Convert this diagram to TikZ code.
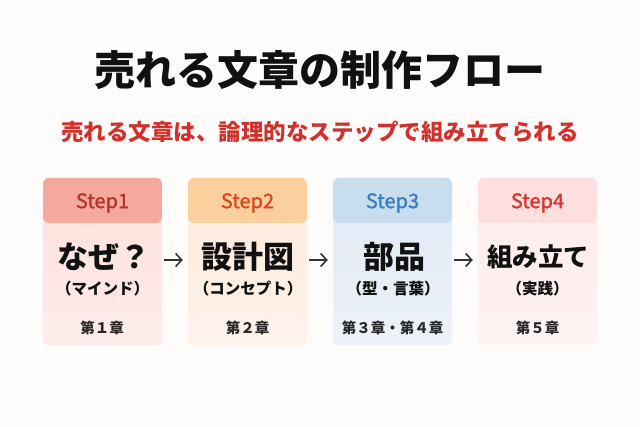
\documentclass[tikz,border=0pt]{standalone}
\usepackage{fontspec}
\usetikzlibrary{arrows.meta}
\newfontfamily\jp{Noto Sans CJK JP}
\newfontfamily\jpm[FakeBold=1.3]{Noto Sans CJK JP}
\definecolor{bg}{HTML}{FDFCFA}
\definecolor{ink}{HTML}{111111}
\definecolor{subred}{HTML}{D0312D}
\definecolor{arrowc}{HTML}{333333}
\definecolor{hA}{HTML}{F5A89C}\definecolor{bA}{HTML}{FDE1DD}\definecolor{lA}{HTML}{FDEAE7}\definecolor{fA}{HTML}{FDECE9}\definecolor{tA}{HTML}{B5342A}
\definecolor{hB}{HTML}{FBD09E}\definecolor{bB}{HTML}{FDEADB}\definecolor{lB}{HTML}{FEF1E8}\definecolor{fB}{HTML}{FEF2EA}\definecolor{tB}{HTML}{D9481F}
\definecolor{hC}{HTML}{C8DDED}\definecolor{bC}{HTML}{E1EAF4}\definecolor{lC}{HTML}{EAF0F7}\definecolor{fC}{HTML}{EDF2F8}\definecolor{tC}{HTML}{3A7DC1}
\definecolor{hD}{HTML}{FDDFDD}\definecolor{bD}{HTML}{FEEBEB}\definecolor{lD}{HTML}{FEF2F2}\definecolor{fD}{HTML}{FEF3F3}\definecolor{tD}{HTML}{D83232}
\tikzset{
  card/.style n args={4}{minimum width=119pt, minimum height=167pt, inner sep=0pt,
    rounded corners=6pt, fill=#4,
    path picture={
      \shade[top color=#2, bottom color=#3]
        (path picture bounding box.north west) rectangle (path picture bounding box.south east);
      \fill[#1] (path picture bounding box.north west) rectangle ([yshift=-45pt]path picture bounding box.north east);
      \fill[#4] ([yshift=34pt]path picture bounding box.south west) rectangle (path picture bounding box.south east);
    }},
  steplbl/.style={font=\jpm\fontsize{20}{22}\selectfont, inner sep=0pt},
  maintxt/.style={font=\jp\bfseries\fontsize{31}{34}\selectfont, text=ink, inner sep=0pt},
  subtxt/.style={font=\jp\bfseries\fontsize{15.5}{17}\selectfont, text=ink, inner sep=0pt},
  foottxt/.style={font=\jp\bfseries\fontsize{14.5}{16}\selectfont, text=ink!90, inner sep=0pt},
  arr/.style={draw=arrowc, line width=1.6pt, -{Straight Barb[length=6pt,width=13pt]}},
}
\begin{document}
\begin{tikzpicture}[x=1pt,y=-1pt]
\fill[bg] (0,0) rectangle (640,427);
\useasboundingbox (0,0) rectangle (640,427);
\node[font=\jp\bfseries\fontsize{41}{44}\selectfont, text=ink, inner sep=0pt] (title) at (320,70) {売れる文章の制作フロー};
\node[font=\jp\bfseries\fontsize{22.5}{25}\selectfont, text=subred, inner sep=0pt] (subtitle) at (320,132) {売れる文章は、論理的なステップで組み立てられる};
% cards
\node[card={hA}{bA}{lA}{fA}] (card1) at (102.5,261.5) {};
\node[card={hB}{bB}{lB}{fB}] (card2) at (247.5,261.5) {};
\node[card={hC}{bC}{lC}{fC}] (card3) at (392.5,261.5) {};
\node[card={hD}{bD}{lD}{fD}] (card4) at (537.5,261.5) {};
% step labels
\node[steplbl, text=tA] (s1) at (102.5,203) {Step1};
\node[steplbl, text=tB] (s2) at (247.5,203) {Step2};
\node[steplbl, text=tC] (s3) at (392.5,203) {Step3};
\node[steplbl, text=tD] (s4) at (537.5,203) {Step4};
% main texts
\node[maintxt] (m1) at (104,257) {なぜ？};
\node[maintxt] (m2) at (248,257) {設計図};
\node[maintxt] (m3) at (394,257) {部品};
\node[maintxt, font=\jp\bfseries\fontsize{25.5}{28}\selectfont] (m4) at (538,257) {組み立て};
% sub texts
\node[subtxt] (u1) at (102.5,289) {（マインド）};
\node[subtxt] (u2) at (248,289) {（コンセプト）};
\node[subtxt] (u3) at (393,289) {（型・言葉）};
\node[subtxt] (u4) at (537.5,289) {（実践）};
% footers
\node[foottxt] (f1) at (102,328) {第１章};
\node[foottxt] (f2) at (247.5,328) {第２章};
\node[foottxt] (f3) at (392.5,328) {第３章・第４章};
\node[foottxt] (f4) at (537.5,328) {第５章};
% arrows
\draw[arr] ([xshift=1.5pt,yshift=1.5pt]card1.east) -- ([xshift=-5pt,yshift=1.5pt]card2.west);
\draw[arr] ([xshift=1.5pt,yshift=1.5pt]card2.east) -- ([xshift=-5pt,yshift=1.5pt]card3.west);
\draw[arr] ([xshift=1.5pt,yshift=1.5pt]card3.east) -- ([xshift=-5pt,yshift=1.5pt]card4.west);
\end{tikzpicture}
\end{document}
